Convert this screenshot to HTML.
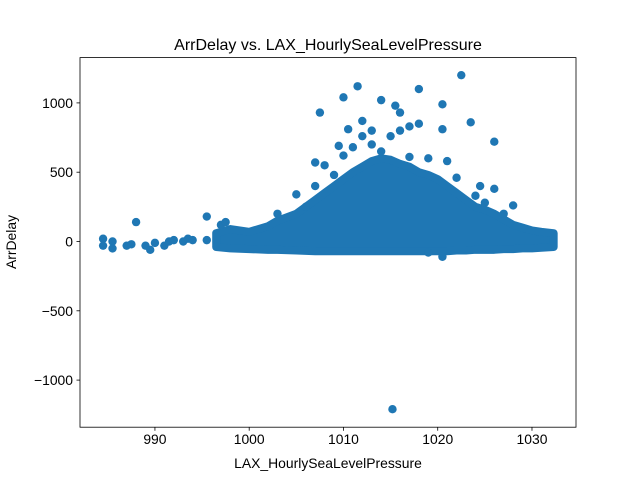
<!DOCTYPE html>
<html><head><meta charset="utf-8"><style>
body{margin:0;background:#fff}
svg text{font-family:"Liberation Sans","DejaVu Sans",sans-serif}
</style></head><body>
<svg id="chart" width="640" height="480" xmlns="http://www.w3.org/2000/svg">
<rect width="640" height="480" fill="#fff"/>
<g id="plot"></g>
<text x="328" y="50" text-anchor="middle" font-size="16">ArrDelay vs. LAX_HourlySeaLevelPressure</text>
<text x="328" y="468" text-anchor="middle" font-size="13.9">LAX_HourlySeaLevelPressure</text>
<text transform="translate(16,242) rotate(-90)" text-anchor="middle" font-size="13.9">ArrDelay</text>
<g id="axes"></g>
</svg>
<script>
const bandX=[996.5,998,1000,1002,1003,1005,1007,1008,1009,1010,1011,1012,1013,1014,1015,1016,1017,1018,1019,1020,1021,1022,1023,1024,1025,1026,1027,1028,1029,1030,1031,1032.3];
const bandHi=[60,90,70,110,150,200,300,350,400,450,500,540,580,600,590,560,540,500,480,450,400,350,300,250,230,200,160,120,100,80,70,60];
const bandLo=[-40,-50,-55,-60,-60,-65,-70,-70,-70,-70,-70,-70,-70,-70,-70,-70,-70,-70,-70,-70,-70,-65,-65,-60,-60,-60,-55,-55,-50,-50,-45,-40];
const ptX=[984.5,984.5,985.5,985.5,987,987.5,988,989,989.5,990,991,991.5,992,993,993.5,994,995.5,995.5,997,997.5,1007,1007.5,1008,1009,1010,1010.5,1011.5,1012,1013,1014,1015.5,1016,1016,1017,1018,1018,1020.5,1020.5,1022.5,1023.5,1026,1026,1015.2,1020.5,1019,1011,1013,1009.5,1012,1015,1022,1024.5,1028,1005,1003,1007,1021,1019,1024,1025,1010,1014,1017,1006,1027];
const ptY=[20,-30,0,-50,-30,-20,140,-30,-60,-10,-30,0,10,0,20,10,180,10,120,140,570,930,550,480,1040,810,1120,870,800,1020,980,930,800,830,1100,850,990,810,1200,860,720,380,-1210,-110,-80,680,700,690,760,760,460,400,260,340,200,400,580,600,330,280,620,650,610,250,200];
const xTicks=[990,1000,1010,1020,1030];
const yTicks=[-1000,-500,0,500,1000];
const L=80,R=576,T=57.6,B=427.2;
const xMin=982.05,xMax=1034.67,yMin=-1328,yMax=1320;
const sx=v=>L+(v-xMin)/(xMax-xMin)*(R-L);
const sy=v=>241.5-v*(69.3/500);
const NS="http://www.w3.org/2000/svg";
const plot=document.getElementById('plot'),axes=document.getElementById('axes');
const C="#1f77b4";
function mk(tag,attrs,parent){const e=document.createElementNS(NS,tag);for(const k in attrs)e.setAttribute(k,attrs[k]);parent.appendChild(e);return e;}
let pts=[];
for(let i=0;i<bandX.length;i++)pts.push(sx(bandX[i])+','+sy(bandHi[i]));
for(let i=bandX.length-1;i>=0;i--)pts.push(sx(bandX[i])+','+sy(bandLo[i]));
const band=mk('polygon',{points:pts.join(' '),fill:C,stroke:C,'stroke-width':8,'stroke-linejoin':'round'},plot);


for(let i=0;i<ptX.length;i++){
 const c=mk('circle',{cx:sx(ptX[i]),cy:sy(ptY[i]),r:4.2,fill:C},plot);
 
 
}
const fr=mk('rect',{x:L,y:T,width:R-L,height:B-T,fill:'none',stroke:'#000','stroke-width':0.8},axes);


xTicks.forEach(v=>{const x=sx(v);mk('line',{x1:x,x2:x,y1:B,y2:B+3.5,stroke:'#000','stroke-width':0.8},axes);
 const t=mk('text',{x:x,y:B+17,'text-anchor':'middle','font-size':13.9},axes);t.textContent=v;
 
 });
yTicks.forEach(v=>{const y=sy(v);mk('line',{x1:L-3.5,x2:L,y1:y,y2:y,stroke:'#000','stroke-width':0.8},axes);
 const t=mk('text',{x:L-7,y:y+5,'text-anchor':'end','font-size':13.9},axes);t.textContent=v<0?'\u2212'+Math.abs(v):v;
 
 });
</script>
</body></html>
